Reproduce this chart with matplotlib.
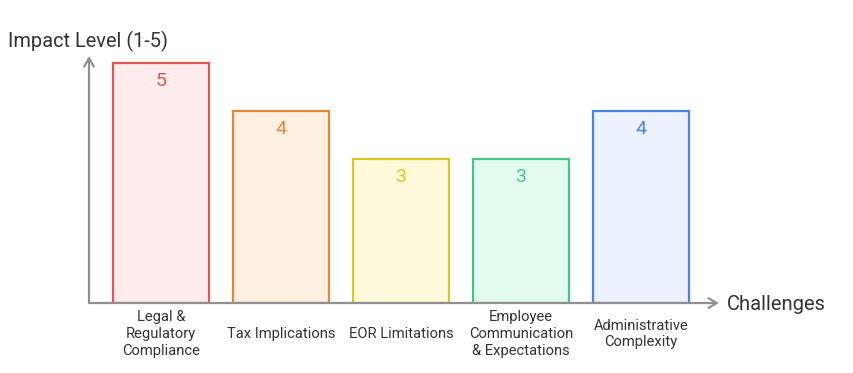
import matplotlib
matplotlib.use("Agg")
import matplotlib.pyplot as plt

plt.rcParams["font.family"] = ["Roboto", "DejaVu Sans"]

categories = ["Legal &\nRegulatory\nCompliance", "Tax Implications", "EOR Limitations",
              "Employee\nCommunication\n& Expectations", "Administrative\nComplexity"]
impact = [5, 4, 3, 3, 4]
edge_colors = ["#e35656", "#e0883a", "#dcc526", "#45c486", "#4a84e0"]
fill_colors = ["#feecec", "#fdf0e3", "#fef9da", "#e2fbee", "#ebf1fd"]

W, H = 854, 373
fig = plt.figure(figsize=(W / 100, H / 100), dpi=100)

# pixel layout: baseline at y=303, axis start x=89, bars 96 px wide every 120 px
px_unit = 48.0
left_px, right_px, base_px, top_px = 89, 719, 303, 56
x0 = 161
ax = fig.add_axes([left_px / W, (H - base_px) / H, (right_px - left_px) / W, (base_px - top_px) / H])
ax.set_xlim((left_px - x0) / 120, (right_px - x0) / 120)
ax.set_ylim(0, (base_px - top_px) / px_unit)
ax.axis("off")

xs = list(range(len(categories)))
ax.bar(xs, impact, width=0.8, color=fill_colors, edgecolor=edge_colors, linewidth=1.6)

for x, v, c in zip(xs, impact, edge_colors):
    ax.text(x, v - 0.37, str(v), ha="center", va="center", fontsize=14, color=c)

gray = "#909090"
xmin, xmax = ax.get_xlim()
ymin, ymax = ax.get_ylim()
ax.annotate("", xy=(xmax, 0), xytext=(xmin, 0), annotation_clip=False,
            arrowprops=dict(arrowstyle="->,head_length=0.6,head_width=0.35", color=gray, lw=1.6,
                            shrinkA=0, shrinkB=0))
ax.annotate("", xy=(xmin, ymax), xytext=(xmin, 0), annotation_clip=False,
            arrowprops=dict(arrowstyle="->,head_length=0.6,head_width=0.35", color=gray, lw=1.6,
                            shrinkA=0, shrinkB=0))

for x, lab in zip(xs, categories):
    ax.text(x, -31 / px_unit, lab, ha="center", va="center", fontsize=10.6, color="#333333",
            linespacing=1.25, clip_on=False)

fig.text(8 / W, 1 - 41 / H, "Impact Level (1-5)", ha="left", va="center", fontsize=14.4, color="#333333")
fig.text(727 / W, 1 - 304 / H, "Challenges", ha="left", va="center", fontsize=14.5, color="#333333")

fig.savefig("out.png", dpi=100, facecolor="white")
